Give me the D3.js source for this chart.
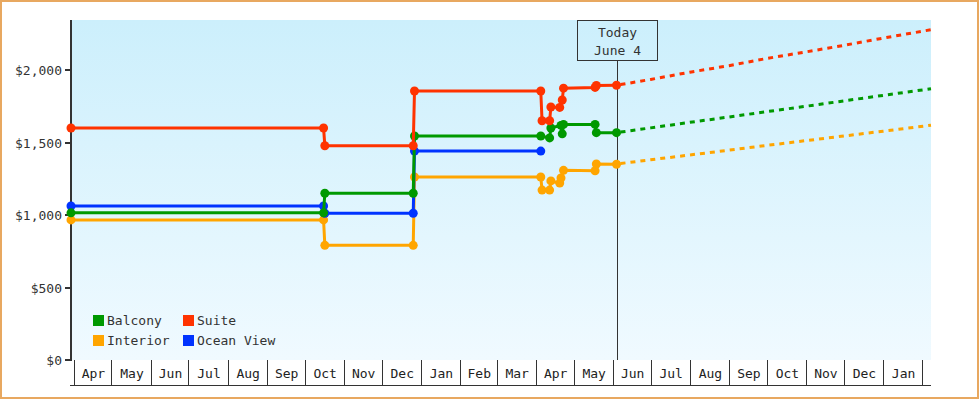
<!DOCTYPE html>
<html>
<head>
<meta charset="utf-8">
<script src="https://cdn.jsdelivr.net/npm/d3@7"></script>
<style>
  html, body { margin: 0; padding: 0; background: #fff; }
  svg { display: block; }
  text { font-family: "DejaVu Sans Mono", "Liberation Mono", monospace; }
</style>
</head>
<body>
<svg id="chart" width="980" height="400"></svg>
<script>
// ---------- data ----------
const seriesNames = ["Interior", "Ocean View", "Balcony", "Suite"];
const seriesColors = ["#ffa500", "#0033ff", "#009900", "#ff3300"];

const suiteDates  = ["2015-03-30","2015-10-16","2015-10-17","2015-12-26","2015-12-27","2016-04-05","2016-04-06","2016-04-12","2016-04-13","2016-04-20","2016-04-22","2016-04-23","2016-05-18","2016-05-19","2016-06-04"];
const suitePrices = [1600,1600,1478,1478,1855,1855,1650,1650,1745,1742,1793,1875,1880,1893,1895];

const balconyDates  = ["2015-03-30","2015-10-16","2015-10-17","2015-12-26","2015-12-27","2016-04-05","2016-04-12","2016-04-13","2016-04-21","2016-04-22","2016-04-23","2016-05-18","2016-05-19","2016-06-04"];
const balconyPrices = [1015,1015,1150,1150,1545,1545,1532,1600,1618,1560,1625,1625,1568,1568];

const interiorDates  = ["2015-03-30","2015-10-16","2015-10-17","2015-12-26","2015-12-27","2016-04-05","2016-04-06","2016-04-12","2016-04-13","2016-04-20","2016-04-21","2016-04-23","2016-05-18","2016-05-19","2016-06-04"];
const interiorPrices = [966,966,791,791,1262,1262,1172,1172,1235,1220,1255,1308,1305,1352,1350];

const oceanDates  = ["2015-03-30","2015-10-16","2015-10-17","2015-12-26","2015-12-27","2016-04-05"];
const oceanPrices = [1062,1062,1012,1012,1441,1441];

// forecasts (dashed)
const forecastDates = ["2016-06-04","2016-07-01","2016-08-01","2016-09-01","2016-10-01","2016-11-01","2016-12-01","2017-01-01","2017-02-08"];
const suiteForecast    = [1895,1935,1985,2030,2080,2125,2170,2220,2278];
const balconyForecast  = [1568,1601,1639,1676,1713,1750,1787,1825,1871];
const interiorForecast = [1352,1381,1414,1447,1480,1513,1545,1578,1619];

const yTicks = [0, 500, 1000, 1500, 2000];
const monthLabels = ["Jan","Feb","Mar","Apr","May","Jun","Jul","Aug","Sep","Oct","Nov","Dec"];
const todayDate = "2016-06-04";
const todayLabel = ["Today", "June 4"];
const legendNames = ["Balcony", "Suite", "Interior", "Ocean View"];

// ---------- setup ----------
const parse = d3.timeParse("%Y-%m-%d");
const svg = d3.select("#chart");
const L = 71, R = 931, T = 20, B = 360;

const x = d3.scaleTime().domain([parse("2015-03-30"), parse("2017-02-08")]).range([L, R]);
const y = d3.scaleLinear().domain([0, 2345]).range([B, T]);

const colorOf = d3.scaleOrdinal().domain(seriesNames).range(seriesColors);

// outer border
svg.append("rect").attr("x", 1).attr("y", 1).attr("width", 977).attr("height", 397)
  .attr("fill", "#fff").attr("stroke", "#e8a860").attr("stroke-width", 2);

// background gradient
const defs = svg.append("defs");
const grad = defs.append("linearGradient").attr("id", "bg").attr("x1", 0).attr("y1", 0).attr("x2", 0).attr("y2", 1);
grad.append("stop").attr("offset", "0%").attr("stop-color", "#cceffc");
grad.append("stop").attr("offset", "100%").attr("stop-color", "#f0faff");
svg.append("rect").attr("x", L).attr("y", T).attr("width", R - L).attr("height", B - T).attr("fill", "url(#bg)");

// y axis
const yAxisG = svg.append("g");
yAxisG.append("line").attr("x1", L).attr("x2", L).attr("y1", T).attr("y2", B + 1)
  .attr("stroke", "#333").attr("stroke-width", 2);
yTicks.forEach(v => {
  const yy = Math.round(y(v));
  yAxisG.append("line").attr("x1", L - 6).attr("x2", L).attr("y1", yy).attr("y2", yy)
    .attr("stroke", "#333").attr("stroke-width", 2);
  yAxisG.append("text").attr("x", 62).attr("y", yy).attr("dy", "0.35em")
    .attr("text-anchor", "end").attr("font-size", 13).attr("fill", "#333")
    .text(d3.format("$,")(v));
});

// x axis (month boxes)
const xAxisG = svg.append("g").attr("shape-rendering", "crispEdges");
const months = d3.timeMonth.range(d3.timeMonth.ceil(x.domain()[0]), x.domain()[1]);
xAxisG.append("line").attr("x1", L - 1).attr("x2", R).attr("y1", 385.5).attr("y2", 385.5)
  .attr("stroke", "#333").attr("stroke-width", 1);
months.forEach(m => {
  const xx = Math.round(x(m)) + 0.5;
  xAxisG.append("line").attr("x1", xx).attr("x2", xx).attr("y1", B).attr("y2", 386)
    .attr("stroke", "#333").attr("stroke-width", 1);
  const next = d3.timeMonth.offset(m, 1);
  if (next <= x.domain()[1]) {
    svg.append("text").attr("x", (x(m) + x(next)) / 2 + 1).attr("y", 373).attr("dy", "0.35em")
      .attr("text-anchor", "middle").attr("font-size", 13).attr("fill", "#222")
      .text(monthLabels[m.getMonth()]);
  }
});

// today marker
const tx = Math.round(x(parse(todayDate))) + 0.5;
svg.append("line").attr("x1", tx).attr("x2", tx).attr("y1", 60).attr("y2", B)
  .attr("stroke", "#333").attr("stroke-width", 1).attr("shape-rendering", "crispEdges");
svg.append("rect").attr("x", tx - 40).attr("y", 20.5).attr("width", 80).attr("height", 40)
  .attr("fill", "none").attr("stroke", "#333").attr("stroke-width", 1).attr("shape-rendering", "crispEdges");
todayLabel.forEach((t, i) => {
  svg.append("text").attr("x", tx).attr("y", 32 + i * 18).attr("dy", "0.35em")
    .attr("text-anchor", "middle").attr("font-size", 13).attr("fill", "#333").text(t);
});

// series
const line = d3.line().x(d => x(d[0])).y(d => y(d[1]));
const series = {
  "Interior":   { dates: interiorDates, prices: interiorPrices, fc: interiorForecast },
  "Ocean View": { dates: oceanDates,    prices: oceanPrices,    fc: null },
  "Balcony":    { dates: balconyDates,  prices: balconyPrices,  fc: balconyForecast },
  "Suite":      { dates: suiteDates,    prices: suitePrices,    fc: suiteForecast }
};

// forecasts first
seriesNames.forEach(name => {
  const s = series[name];
  if (!s.fc) return;
  const pts = forecastDates.map((d, i) => [parse(d), s.fc[i]]);
  svg.append("path").attr("d", line(pts)).attr("fill", "none")
    .attr("stroke", colorOf(name)).attr("stroke-width", 3)
    .attr("stroke-dasharray", "5,5").attr("stroke-dashoffset", -4);
});

seriesNames.forEach(name => {
  const s = series[name];
  const pts = s.dates.map((d, i) => [parse(d), s.prices[i]]);
  const g = svg.append("g");
  g.append("path").attr("d", line(pts)).attr("fill", "none")
    .attr("stroke", colorOf(name)).attr("stroke-width", 3);
  g.selectAll("circle").data(pts).join("circle")
    .attr("cx", d => x(d[0])).attr("cy", d => y(d[1])).attr("r", 4.5)
    .attr("fill", colorOf(name));
});

// legend
const legend = svg.append("g");
legendNames.forEach((name, i) => {
  const col = i % 2, row = Math.floor(i / 2);
  const lx = 93 + col * 90, ly = 315 + row * 20;
  legend.append("rect").attr("x", lx).attr("y", ly).attr("width", 11).attr("height", 11)
    .attr("fill", colorOf(name));
  legend.append("text").attr("x", lx + 14).attr("y", ly + 5.5).attr("dy", "0.35em")
    .attr("font-size", 13).attr("fill", "#333").text(name);
});
</script>
</body>
</html>
